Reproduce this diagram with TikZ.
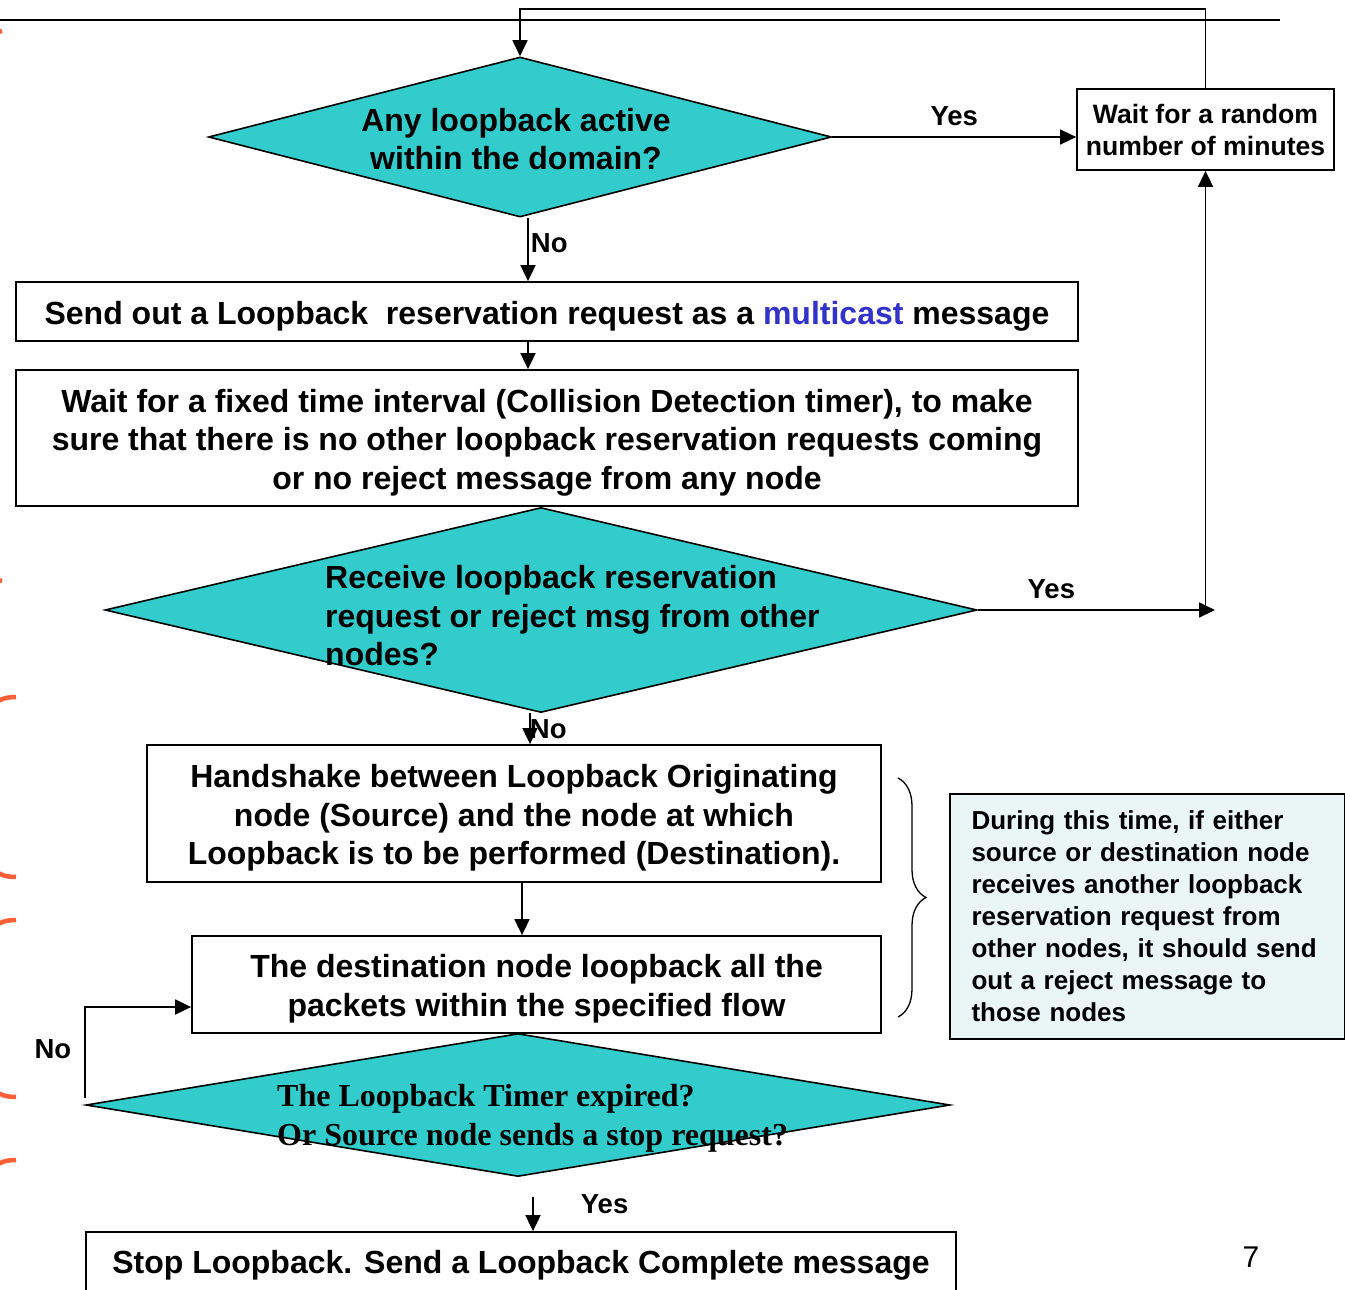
\documentclass[tikz,border=0pt]{standalone}
\usepackage{fontspec}
\setmainfont{Liberation Sans}
\newfontfamily\serifbold{Liberation Serif}
\usetikzlibrary{arrows.meta,positioning,calc,shapes.geometric,decorations.pathreplacing}
\definecolor{flowTeal}{RGB}{51,204,204}
\definecolor{noteFill}{RGB}{234,245,245}
\definecolor{mcBlue}{RGB}{51,51,204}
\definecolor{slideMark}{RGB}{250,95,55}
\newcommand{\boxlift}{\rule{0pt}{32pt}}

\begin{document}
\begin{tikzpicture}[x=1pt, y=-1pt,
    flow/.style={-{Triangle[length=16pt,width=15pt]}, line width=1.8pt},
    procbox/.style={draw, line width=1.8pt, fill=white, inner sep=0pt, align=center,
      font=\bfseries\fontsize{32}{38.5}\selectfont},
    decision/.style={diamond, draw, line width=1.6pt, fill=flowTeal, inner sep=0pt},
    dtext/.style={inner sep=0pt, font=\bfseries\fontsize{32}{38.5}\selectfont},
    lbl/.style={inner sep=1pt, font=\bfseries\fontsize{27.5}{30}\selectfont}]
    \useasboundingbox (0,0) rectangle (1345,1290);
    % --- slide decoration: rule and orange brackets at the edge ---
    \draw[line width=2.4pt] (0,20) -- (1280,20);
    \draw[slideMark, line width=4.5pt]
      (2,31) .. controls (-6,32) and (-12,40) .. (-12,60) -- (-12,555)
      .. controls (-12,575) and (-6,580) .. (2,581);
    \foreach \ya/\yb in {697/877, 920/1097} {
      \draw[slideMark, line width=4.5pt]
        (16,\ya) .. controls (-2,\ya) and (-14,\ya+8) .. (-14,\ya+30) -- (-14,\yb-30)
        .. controls (-14,\yb-8) and (-2,\yb) .. (16,\yb);
    }
    \draw[slideMark, line width=4.5pt]
      (16,1160) .. controls (-2,1160) and (-14,1168) .. (-14,1190) -- (-14,1320);
    % --- decisions ---
    \node[decision, minimum width=623pt, minimum height=160pt] (anyLoop) at (520,137) {};
    \node[dtext, align=center] (anyLoopTxt) at (516,139)
      {Any loopback active\\ within the domain?};
    \node[decision, minimum width=872pt, minimum height=205pt] (recvReq) at (541,610) {};
    \node[dtext, align=left, anchor=west] (recvReqTxt) at (325,616)
      {Receive loopback reservation\\ request or reject msg from other\\ nodes?};
    \node[decision, minimum width=864pt, minimum height=143pt] (timerUp) at (518,1105) {};
    \node[inner sep=0pt, align=left, anchor=west, font=\serifbold\bfseries\fontsize{32}{39}\selectfont]
      (timerUpTxt) at (277,1118)
      {The Loopback Timer expired?\\ Or Source node sends a stop request?};
    % --- process boxes ---
    \node[procbox, minimum width=257pt, minimum height=81pt,
      font=\bfseries\fontsize{26.6}{32}\selectfont] (waitRand) at (1205.5,129.5)
      {Wait for a random\\ number of minutes};
    \node[procbox, minimum width=1062pt, minimum height=59pt] (sendReq) at (547,311.5)
      {\boxlift Send out a Loopback\ \ reservation request as a \textcolor{mcBlue}{multicast} message};
    \node[procbox, minimum width=1062pt, minimum height=136pt] (waitFix) at (547,438)
      {\boxlift Wait for a fixed time interval (Collision Detection timer), to make\\
       sure that there is no other loopback reservation requests coming\\
       or no reject message from any node};
    \node[procbox, minimum width=734pt, minimum height=137pt] (handshake) at (514,813.5)
      {\boxlift Handshake between Loopback Originating\\ node (Source) and the node at which\\
       Loopback is to be performed (Destination).};
    \node[procbox, minimum width=689pt, minimum height=97pt] (destLoop) at (536.5,984.5)
      {\boxlift The destination node loopback all the\\ packets within the specified flow};
    \node[procbox, minimum width=870pt, minimum height=66pt] (stopLoop) at (521,1265)
      {Stop Loopback. Send a Loopback Complete message};
    % --- side note with brace ---
    \node[draw, line width=1.4pt, fill=noteFill, minimum width=395pt, minimum height=245pt,
      text width=352pt, align=left, inner sep=0pt, font=\bfseries\fontsize{26}{32}\selectfont]
      (sideNote) at (1147.5,916.5)
      {During this time, if either\\ source or destination node\\ receives another loopback\\
       reservation request from\\ other nodes, it should send\\ out a reject message to\\ those nodes};
    \draw[line width=1.3pt, decorate, decoration={brace, amplitude=28pt}] (898,778) -- (898,1017);
    % --- connectors ---
    \draw[flow] (anyLoop.east) -- (anyLoop.east -| waitRand.west)
      node[lbl, midway, above=9pt] {Yes};
    \draw[flow] ([xshift=8pt]anyLoop.south) -- ([xshift=-19pt]sendReq.north)
      node[lbl, pos=0.4, right=1pt] {No};
    \draw[flow] ([xshift=-19pt]sendReq.south) -- ([xshift=-19pt]waitFix.north);
    \coordinate (yesTurn) at (1215,610);
    \draw[flow] (recvReq.east) -- (yesTurn) node[lbl, pos=0.31, above=9pt] {Yes};
    \draw[flow] (waitRand.south |- yesTurn) -- (waitRand.south);
    \draw[flow] (waitRand.north) -- ++(0,-79) -| (anyLoop.north);
    \draw[flow] ([xshift=-11pt]recvReq.south) -- ([xshift=16pt]handshake.north)
      node[lbl, midway, right=-2pt] {No};
    \draw[flow] ([xshift=8pt]handshake.south) -- ([xshift=-14.5pt]destLoop.north);
    \draw[flow] ([yshift=7pt]timerUp.west) |- ([yshift=-22.5pt]destLoop.west)
      node[lbl, pos=0.27, left=12pt] {No};
    \draw[flow] ([xshift=15pt, yshift=-20pt]timerUp.south) -- ([xshift=12pt]stopLoop.north)
      node[lbl, pos=0.2, right=46pt] {Yes};
    % --- page number ---
    \node[inner sep=0pt, font=\fontsize{30}{36}\selectfont] (pageNo) at (1251,1257) {7};
\end{tikzpicture}
\end{document}
